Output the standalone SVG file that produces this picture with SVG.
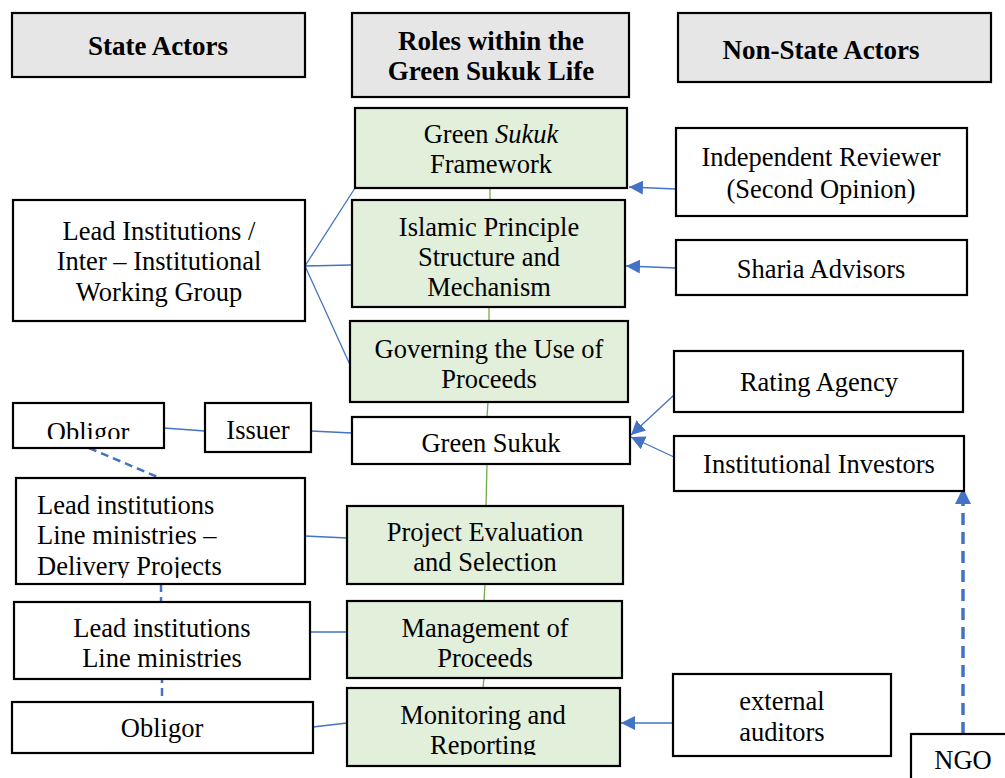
<svg xmlns="http://www.w3.org/2000/svg" width="1005" height="778" viewBox="0 0 1005 778">
<style>
.box{fill:#ffffff;stroke:#000;stroke-width:2.2}
.hdr{fill:#e7e6e6;stroke:#000;stroke-width:2.2}
.grn{fill:#e2efda;stroke:#000;stroke-width:2.2}
text{font-family:'Liberation Serif','Times New Roman','DejaVu Serif',serif}
.t{font-size:26.5px;fill:#000;text-anchor:middle}
.tl{font-size:26.5px;fill:#000}
.h{font-size:27px;font-weight:bold;fill:#000;text-anchor:middle}
.ln{stroke:#4472c4;stroke-width:1.3;fill:none}
.gl{stroke:#70ad47;stroke-width:1.3;fill:none}
.dash{stroke:#4472c4;stroke-width:2.5;fill:none;stroke-dasharray:8 5}
.dash2{stroke:#4472c4;stroke-width:3.5;fill:none;stroke-dasharray:12 7}
</style>
<defs>
<marker id="ah" viewBox="0 0 10 10" refX="10" refY="5" markerWidth="14" markerHeight="14" markerUnits="userSpaceOnUse" orient="auto">
<path d="M0,0 L10,5 L0,10 z" fill="#4472c4"/>
</marker>
<marker id="ah2" viewBox="0 0 10 10" refX="10" refY="5" markerWidth="16" markerHeight="16" markerUnits="userSpaceOnUse" orient="auto">
<path d="M0,0 L10,5 L0,10 z" fill="#4472c4"/>
</marker>
<clipPath id="c1"><rect x="13" y="404" width="150" height="35"/></clipPath>
<clipPath id="c2"><rect x="17" y="479" width="287" height="99"/></clipPath>
<clipPath id="c3"><rect x="348" y="689" width="271" height="66"/></clipPath>
</defs>

<g id="connectors">
<line class="gl" x1="490" y1="188" x2="490" y2="200"/>
<line class="gl" x1="489" y1="307" x2="489" y2="321"/>
<line class="gl" x1="488" y1="402" x2="487" y2="417"/>
<line class="gl" x1="487" y1="464" x2="486" y2="506"/>
<line class="gl" x1="485" y1="584" x2="484" y2="601"/>
<line class="gl" x1="484" y1="678" x2="483" y2="688"/>
<line class="ln" x1="305" y1="266" x2="355" y2="188"/>
<line class="ln" x1="305" y1="266" x2="352" y2="265"/>
<line class="ln" x1="305" y1="266" x2="351" y2="367"/>
<line class="ln" x1="164" y1="428" x2="205" y2="431"/>
<line class="ln" x1="311" y1="431" x2="352" y2="433"/>
<line class="ln" x1="305" y1="536" x2="347" y2="538"/>
<line class="ln" x1="310" y1="632" x2="347" y2="632"/>
<line class="ln" x1="313" y1="727" x2="347" y2="723"/>
<line class="dash" x1="89" y1="448" x2="160" y2="478"/>
<line class="dash" x1="161" y1="584" x2="161" y2="602"/>
<line class="dash" x1="162" y1="662" x2="162" y2="702"/>
<line class="ln" x1="676" y1="189" x2="629" y2="187" marker-end="url(#ah)"/>
<line class="ln" x1="676" y1="268" x2="626" y2="266" marker-end="url(#ah)"/>
<line class="ln" x1="674" y1="395" x2="631" y2="435" marker-end="url(#ah)"/>
<line class="ln" x1="674" y1="457" x2="631" y2="437" marker-end="url(#ah)"/>
<line class="ln" x1="673" y1="723" x2="621" y2="723" marker-end="url(#ah)"/>
<line class="dash2" x1="963" y1="734" x2="963" y2="488" marker-end="url(#ah2)"/>
</g>

<g id="hdr-state"><rect class="hdr" x="12" y="13" width="293" height="64"/><text class="h" x="158" y="55">State Actors</text></g>
<g id="hdr-roles"><rect class="hdr" x="352" y="13" width="277" height="84"/><text class="h" x="491" y="50">Roles within the</text><text class="h" x="491" y="80">Green Sukuk Life</text></g>
<g id="hdr-nonstate"><rect class="hdr" x="678" y="13" width="313" height="69"/><text class="h" x="821" y="59">Non-State Actors</text></g>

<g id="framework"><rect class="grn" x="355" y="108" width="272" height="80"/><text class="t" x="491" y="143">Green <tspan font-style="italic">Sukuk</tspan></text><text class="t" x="491" y="173">Framework</text></g>
<g id="islamic"><rect class="grn" x="352" y="200" width="273" height="107"/><text class="t" x="489" y="236">Islamic Principle</text><text class="t" x="489" y="266">Structure and</text><text class="t" x="489" y="296">Mechanism</text></g>
<g id="governing"><rect class="grn" x="350" y="321" width="278" height="81"/><text class="t" x="489" y="358">Governing the Use of</text><text class="t" x="489" y="388">Proceeds</text></g>
<g id="greensukuk"><rect class="box" x="352" y="417" width="278" height="47"/><text class="t" x="491" y="452">Green Sukuk</text></g>
<g id="project"><rect class="grn" x="347" y="506" width="276" height="78"/><text class="t" x="485" y="541">Project Evaluation</text><text class="t" x="485" y="571">and Selection</text></g>
<g id="management"><rect class="grn" x="347" y="601" width="275" height="77"/><text class="t" x="485" y="637">Management of</text><text class="t" x="485" y="667">Proceeds</text></g>
<g id="monitoring"><rect class="grn" x="347" y="688" width="273" height="78"/><text class="t" x="483" y="724">Monitoring and</text><text class="t" x="483" y="754" clip-path="url(#c3)">Reporting</text></g>

<g id="lead-iwg"><rect class="box" x="13" y="200" width="292" height="121"/><text class="t" x="159" y="240">Lead Institutions /</text><text class="t" x="159" y="270">Inter – Institutional</text><text class="t" x="159" y="301">Working Group</text></g>
<g id="obligor1"><rect class="box" x="13" y="403" width="151" height="45"/><text class="t" x="88" y="441" clip-path="url(#c1)">Obligor</text></g>
<g id="issuer"><rect class="box" x="205" y="403" width="106" height="49"/><text class="t" x="258" y="439">Issuer</text></g>
<g id="lead-delivery"><rect class="box" x="16" y="478" width="289" height="106"/><g clip-path="url(#c2)"><text class="tl" x="37" y="514">Lead institutions</text><text class="tl" x="37" y="544">Line ministries –</text><text class="tl" x="37" y="575">Delivery Projects</text></g></g>
<g id="lead-line"><rect class="box" x="14" y="602" width="296" height="77"/><text class="t" x="162" y="637">Lead institutions</text><text class="t" x="162" y="667">Line ministries</text></g>
<g id="obligor2"><rect class="box" x="12" y="702" width="301" height="51"/><text class="t" x="162" y="737">Obligor</text></g>

<g id="reviewer"><rect class="box" x="676" y="128" width="291" height="88"/><text class="t" x="821" y="166">Independent Reviewer</text><text class="t" x="821" y="198">(Second Opinion)</text></g>
<g id="sharia"><rect class="box" x="676" y="240" width="291" height="55"/><text class="t" x="821" y="278">Sharia Advisors</text></g>
<g id="rating"><rect class="box" x="674" y="351" width="289" height="61"/><text class="t" x="819" y="391">Rating Agency</text></g>
<g id="investors"><rect class="box" x="674" y="436" width="290" height="55"/><text class="t" x="819" y="473">Institutional Investors</text></g>
<g id="auditors"><rect class="box" x="673" y="674" width="218" height="82"/><text class="t" x="782" y="710">external</text><text class="t" x="782" y="741">auditors</text></g>
<g id="ngo"><rect class="box" x="911" y="734" width="100" height="50"/><text class="t" x="963" y="769">NGO</text></g>
</svg>
